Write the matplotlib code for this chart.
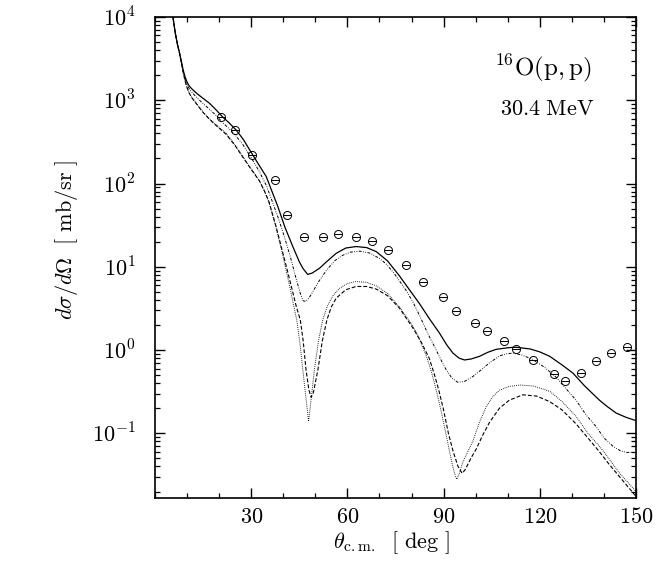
import matplotlib
matplotlib.use('Agg')
import matplotlib.pyplot as plt
from matplotlib.ticker import LogLocator, NullFormatter, MultipleLocator

plt.rcParams['mathtext.fontset'] = 'cm'
plt.rcParams['font.family'] = 'serif'
plt.rcParams['font.serif'] = ['DejaVu Serif']

# experimental points (deg, mb/sr)
exp_theta = [20.6, 25.0, 30.3, 37.3, 41.1, 46.5, 52.3, 57.1, 62.8, 67.8, 72.8, 78.4,
             83.5, 89.7, 93.9, 99.7, 103.4, 108.8, 112.5, 117.8, 124.3, 128.0,
             132.9, 137.6, 142.3, 147.2]
exp_xs = [625, 440, 220, 110, 42, 22.9, 23, 25, 23, 20.6, 15.7, 10.5,
          6.6, 4.35, 2.98, 2.12, 1.70, 1.28, 1.03, 0.75, 0.52, 0.43,
          0.53, 0.74, 0.92, 1.08]

# solid curve
solid_theta = [5.0, 5.6, 6.3, 7.0, 7.6, 8.2, 8.8, 9.4, 10.0, 10.7, 11.5, 12.8, 14.5, 17,
               19, 21.1, 23, 25.3, 27.5, 30.5, 32.5, 34.7, 36.5, 38.3, 40.5, 43, 45, 46.1,
               47.6, 49, 51.3, 53.5, 56.5, 59.5, 62.7, 66, 69, 72.5, 76.2, 79.5, 82.5,
               85.5, 88.7, 91, 92.9, 94.8, 96.5, 98.5, 101.2, 103.8, 106.4, 110.5,
               112.6, 117, 120, 123.1, 127, 130.3, 134, 138.6, 141, 143.8, 147, 150]
solid_xs = [16000, 10000, 6500, 4700, 3800, 2950, 2300, 1900, 1650, 1480, 1370, 1230,
            1090, 920, 770, 630, 540, 440, 340, 220, 165, 121, 80, 53, 30, 17.4, 11.5,
            9.6, 8.1, 8.4, 9.6, 11.5, 14.5, 16.8, 17.5, 17, 15.2, 11.8, 7.8, 5.2, 3.6,
            2.4, 1.6, 1.15, 0.92, 0.8, 0.76, 0.78, 0.84, 0.94, 1.02, 1.07, 1.08, 1.03,
            0.95, 0.84, 0.66, 0.53, 0.37, 0.25, 0.21, 0.175, 0.155, 0.142]

# dash-dot curve
dd_theta = [5.0, 5.6, 6.3, 7.0, 7.6, 8.2, 8.8, 9.4, 10.0, 10.7, 11.5, 12.8, 14.5, 17, 19,
            21.1, 23, 25.3, 27.5, 30.5, 32.5, 34.7, 36.5, 38.5, 40.5, 42.5, 44, 45.3,
            46.2, 47, 48, 49.2, 51, 53.4, 56, 58.6, 61, 63.8, 67, 70, 72.1, 74.5, 76.2,
            78.3, 80.4, 82.5, 85, 87.7, 89.5, 90.8, 92.6, 94.4, 96.5, 99.1, 101.5, 104.3,
            107.4, 109.5, 111.6, 114.5, 117.8, 121.5, 125.1, 128, 131.3, 134.5, 137.6,
            140, 142.8, 145, 147, 150]
dd_xs = [16000, 10000, 6500, 4700, 3750, 2900, 2200, 1800, 1550, 1370, 1250, 1100, 950,
         780, 660, 540, 460, 370, 290, 190, 140, 95, 62, 38, 22, 12, 7.2, 4.8, 3.9, 3.85,
         4.2, 5.0, 6.6, 9.0, 11.8, 13.8, 15.0, 15.4, 14.6, 12.6, 10.8, 8.4, 6.8, 5.2,
         3.8, 2.6, 1.6, 1.0, 0.72, 0.58, 0.46, 0.41, 0.42, 0.48, 0.57, 0.7, 0.85, 0.9,
         0.92, 0.87, 0.77, 0.62, 0.47, 0.35, 0.25, 0.165, 0.12, 0.088, 0.07, 0.062,
         0.059, 0.059]

# dotted curve
dot_theta = [5.0, 5.6, 6.3, 7.0, 7.6, 8.2, 8.8, 9.4, 10.0, 10.7, 11.5, 12.8, 14.9, 17, 19,
             22.2, 25, 27.4, 30, 32.6, 34.2, 35.5, 37.7, 39.9, 42, 44.2, 45.2, 46.1, 47,
             47.9, 48.8, 49.7, 51, 52.3, 53.8, 55.5, 57.5, 60, 62.7, 66, 69, 72.5, 76.2,
             80.4, 82.5, 84.6, 86.2, 87.7, 89.3, 90.8, 92.4, 93.4, 94.1, 94.8, 96, 97.5,
             99.1, 101, 103.3, 105.5, 107.4, 110.5, 113.7, 118, 123.1, 127, 131.3, 135,
             138.6, 141.5, 144.9, 147, 150]
dot_xs = [16000, 10000, 6500, 4700, 3700, 2850, 2150, 1700, 1420, 1220, 1080, 930, 730,
          600, 510, 400, 290, 210, 150, 108, 80, 60, 30, 13.5, 5.8, 2.3, 1.2, 0.58, 0.28,
          0.139, 0.28, 0.58, 1.3, 2.3, 3.4, 4.5, 5.5, 6.3, 6.65, 6.5, 5.9, 4.8, 3.3,
          1.95, 1.35, 0.85, 0.55, 0.33, 0.18, 0.095, 0.048, 0.033, 0.028, 0.032, 0.045,
          0.06, 0.08, 0.13, 0.21, 0.28, 0.33, 0.365, 0.38, 0.37, 0.32, 0.24, 0.16, 0.1,
          0.07, 0.05, 0.033, 0.027, 0.02]

# dashed curve
dash_theta = [5.0, 5.6, 6.3, 7.0, 7.6, 8.2, 8.8, 9.4, 10.0, 10.7, 11.5, 12.8, 14.9, 17, 19,
              22.2, 25, 27.4, 30, 32.6, 34.2, 35.5, 37.7, 39.9, 42, 44, 45.3, 46.2, 47.1,
              48, 48.7, 49.4, 50.8, 52.2, 53.6, 55, 56.5, 59.5, 62.7, 66, 69, 72.5, 76.2,
              80.4, 83, 85.5, 87, 88.5, 90, 91.5, 93, 94.5, 95.8, 96.8, 98.5, 100.2,
              102.2, 104.3, 107.4, 110.5, 114.7, 119, 123.1, 127, 131.3, 135, 138.6,
              141.5, 144.9, 147, 150]
dash_xs = [16000, 10000, 6500, 4700, 3700, 2850, 2150, 1700, 1420, 1210, 1070, 920, 720,
           590, 500, 390, 285, 207, 148, 107, 80, 61, 31, 14.5, 7.0, 3.4, 2.3, 1.3, 0.58,
           0.33, 0.27, 0.31, 0.58, 1.3, 2.3, 3.3, 4.2, 5.3, 5.8, 5.8, 5.4, 4.5, 3.2,
           1.85, 1.25, 0.8, 0.53, 0.33, 0.19, 0.1, 0.06, 0.04, 0.033, 0.037, 0.05, 0.065,
           0.095, 0.135, 0.2, 0.25, 0.29, 0.28, 0.24, 0.19, 0.13, 0.088, 0.06, 0.043,
           0.03, 0.024, 0.0175]

fig = plt.figure(figsize=(6.64, 5.73), dpi=100)
ax = fig.add_axes([155 / 664, 1 - 498 / 573, 481 / 664, 481 / 573])

ax.plot(solid_theta, solid_xs, color='black', lw=0.9)
ax.plot(dd_theta, dd_xs, color='black', lw=0.7, dashes=(3, 1.5, 0.8, 1.5, 0.8, 1.5))
ax.plot(dot_theta, dot_xs, color='black', lw=0.7, dashes=(0.8, 1.2))
ax.plot(dash_theta, dash_xs, color='black', lw=0.8, dashes=(3.5, 1.8))

ax.plot(exp_theta, exp_xs, ls='none', marker='o', ms=5.8, mfc='none', mec='black', mew=0.7)
ax.plot(exp_theta, exp_xs, ls='none', marker='_', ms=5.8, mec='black', mew=0.7)

ax.set_yscale('log')
ax.set_xlim(0, 150)
ax.set_ylim(10 ** -1.777, 1e4)

ax.set_xticks([30, 60, 90, 120, 150])
ax.set_xticklabels([r'$%d$' % v for v in [30, 60, 90, 120, 150]])
ax.xaxis.set_minor_locator(MultipleLocator(10))
ax.set_yticks([1e-1, 1e0, 1e1, 1e2, 1e3, 1e4])
ax.set_yticklabels([r'$10^{-1}$', r'$10^{0}$', r'$10^{1}$', r'$10^{2}$', r'$10^{3}$', r'$10^{4}$'])
ax.yaxis.set_minor_locator(LogLocator(base=10, subs=range(2, 10), numticks=20))
ax.yaxis.set_minor_formatter(NullFormatter())

ax.tick_params(which='both', direction='in', top=True, right=True, labelsize=16)
ax.tick_params(which='major', length=7, width=1.0)
ax.tick_params(which='minor', length=3.5, width=0.9)
ax.tick_params(axis='x', which='major', pad=6)
ax.tick_params(axis='y', which='major', pad=14)
for sp in ax.spines.values():
    sp.set_linewidth(1.2)

fig.text(391 / 664, 1 - 543 / 573, r'$\theta_{\mathrm{c.m.}}\ \ [\ \mathrm{deg}\ ]$',
         ha='center', va='center', fontsize=16)
fig.text(67 / 664, 1 - 240 / 573, r'$d\sigma/d\Omega\ \ [\ \mathrm{mb/sr}\ ]$',
         ha='center', va='center', rotation=90, fontsize=16)

fig.text(543 / 664, 1 - 68 / 573, r'$^{16}\mathrm{O(p,p)}$', ha='center', va='center', fontsize=18)
fig.text(547 / 664, 1 - 109 / 573, r'$30.4\ \mathrm{MeV}$', ha='center', va='center', fontsize=16)

fig.savefig('out.png', dpi=100)
